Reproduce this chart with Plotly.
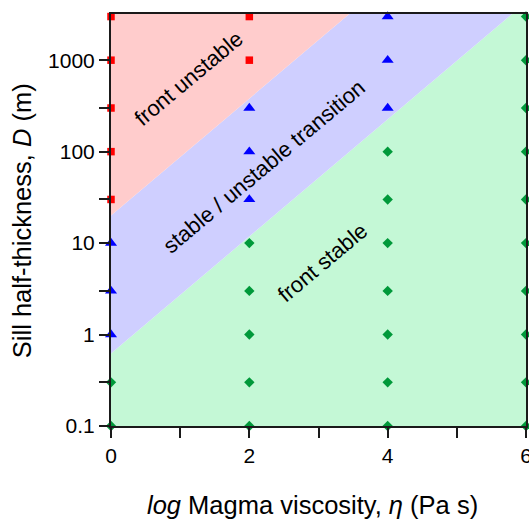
import plotly.graph_objects as go

# Regime diagram: sill half-thickness vs. log magma viscosity
FONT = "Arial, Liberation Sans, sans-serif"

# Simulation runs, grouped by observed front behaviour
unstable_x = [0, 0, 0, 0, 0, 2, 2]
unstable_D = [3000, 1000, 300, 100, 30, 3000, 1000]

transition_x = [0, 0, 0, 2, 2, 2, 4, 4, 4]
transition_D = [10, 3, 1, 300, 100, 30, 3000, 1000, 300]

stable_x = [0, 0,
            2, 2, 2, 2, 2,
            4, 4, 4, 4, 4, 4, 4,
            6, 6, 6, 6, 6, 6, 6, 6, 6, 6]
stable_D = [0.3, 0.1,
            10, 3, 1, 0.3, 0.1,
            100, 30, 10, 3, 1, 0.3, 0.1,
            3000, 1000, 300, 100, 30, 10, 3, 1, 0.3, 0.1]

# Regime boundaries (straight lines in log-log space)
boundary_x = [0, 6]
stable_limit_D = [0.62, 4300]
unstable_limit_D = [20, 138000]
floor_D = 0.01
ceiling_D = 1e7

# Axis ticks
x_tickvals = [0, 1, 2, 3, 4, 5, 6]
x_ticktext = ["0", "", "2", "", "4", "", "6"]
y_tickvals = [0.1, 0.3, 1, 3, 10, 30, 100, 300, 1000]
y_ticktext = ["0.1", "", "1", "", "10", "", "100", "", "1000"]

fig = go.Figure()

# Shaded regime regions
fig.add_trace(go.Scatter(
    x=[boundary_x[0], boundary_x[1], boundary_x[1], boundary_x[0]],
    y=[floor_D, floor_D, stable_limit_D[1], stable_limit_D[0]],
    fill="toself", fillcolor="#C4F8D6", mode="none", hoverinfo="skip",
    showlegend=False))
fig.add_trace(go.Scatter(
    x=[boundary_x[0], boundary_x[1], boundary_x[1], boundary_x[0]],
    y=[stable_limit_D[0], stable_limit_D[1], unstable_limit_D[1], unstable_limit_D[0]],
    fill="toself", fillcolor="#CFCFFF", mode="none", hoverinfo="skip",
    showlegend=False))
fig.add_trace(go.Scatter(
    x=[boundary_x[0], boundary_x[1], boundary_x[1], boundary_x[0]],
    y=[unstable_limit_D[0], unstable_limit_D[1], ceiling_D, ceiling_D],
    fill="toself", fillcolor="#FFCCCC", mode="none", hoverinfo="skip",
    showlegend=False))

# Run markers
fig.add_trace(go.Scatter(
    x=unstable_x, y=unstable_D, mode="markers", cliponaxis=False,
    marker=dict(symbol="square", size=7.5, color="#FF0000"), showlegend=False))
fig.add_trace(go.Scatter(
    x=transition_x, y=transition_D, mode="markers", cliponaxis=False,
    marker=dict(symbol="triangle-up", size=10.5, color="#0000FF"), showlegend=False))
fig.add_trace(go.Scatter(
    x=stable_x, y=stable_D, mode="markers", cliponaxis=False,
    marker=dict(symbol="diamond", size=8, color="#00993A"), showlegend=False))

# Region labels
label_font = dict(family=FONT, size=22, color="black")
for text, lx, ly in [("front unstable", 1.12, 2.80),
                     ("stable / unstable transition", 2.21, 1.84),
                     ("front stable", 3.06, 0.79)]:
    fig.add_annotation(x=lx, y=ly, xref="x", yref="y", text=text,
                       textangle=-40, showarrow=False, font=label_font,
                       xanchor="center", yanchor="middle")

# Axis titles
title_font = dict(family=FONT, size=25.5, color="black")
fig.add_annotation(x=-0.216, y=0.498, xref="paper", yref="paper",
                   text="Sill half-thickness, <i>D</i> (m)", textangle=-90,
                   showarrow=False, font=title_font,
                   xanchor="center", yanchor="middle")
fig.add_annotation(x=0.486, y=-0.1926, xref="paper", yref="paper",
                   text="<i>log</i> Magma viscosity, <i>η</i> (Pa s)",
                   showarrow=False, font=title_font,
                   xanchor="center", yanchor="middle")

axis_common = dict(showline=True, linecolor="#1a1a1a", linewidth=2, mirror=True,
                   ticks="outside", ticklen=10, tickwidth=2, tickcolor="#1a1a1a",
                   showgrid=False, zeroline=False, automargin=False,
                   ticklabeloverflow="allow",
                   tickfont=dict(family=FONT, size=21, color="black"))

fig.update_xaxes(range=[0, 6], tickvals=x_tickvals, ticktext=x_ticktext, **axis_common)
fig.update_yaxes(type="log", range=[-1, 3.505], tickvals=y_tickvals,
                 ticktext=y_ticktext, **axis_common)

fig.update_layout(width=529, height=521,
                  margin=dict(l=111, r=3, t=14, b=95),
                  paper_bgcolor="white", plot_bgcolor="white")

fig.write_html("out.html")
